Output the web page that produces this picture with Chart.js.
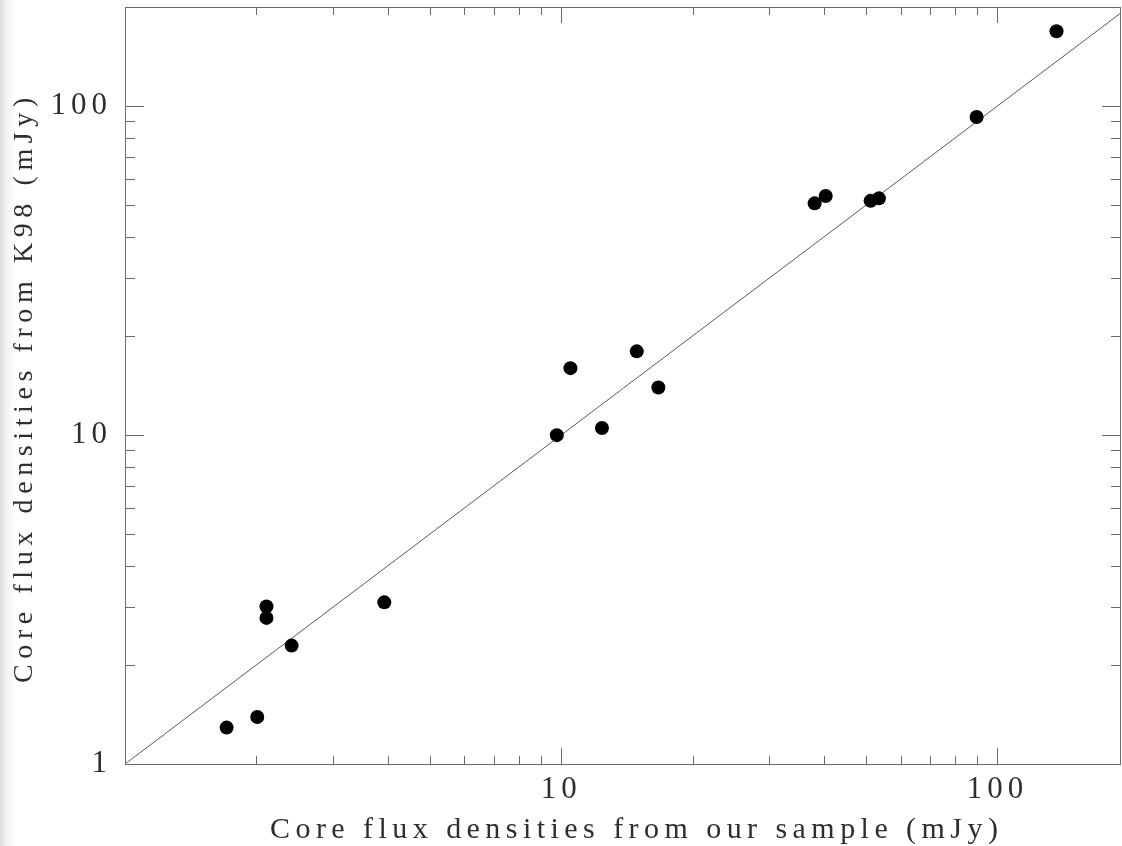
<!DOCTYPE html>
<html>
<head>
<meta charset="utf-8">
<script src="https://cdn.jsdelivr.net/npm/chart.js@4.4.1/dist/chart.umd.min.js"></script>
<style>
  html, body { margin: 0; padding: 0; background: #fff; }
  #wrap { width: 1122px; height: 846px; background: linear-gradient(to right, #dcdcdc 0px, #f3f3f3 7px, #fff 15px); }
</style>
</head>
<body>
<div id="wrap"><canvas id="flux-chart" width="1122" height="846"></canvas></div>
<script>
// core flux densities, mJy: our sample (x) against K98 (y)
const ourFlux = [136.6, 89.6, 38.1, 40.4, 51.2, 53.5, 14.9, 10.5, 16.7, 9.77, 12.4, 3.93, 2.11, 2.11, 2.41, 2.01, 1.71];
const k98Flux = [168.8, 92.6, 50.6, 53.3, 51.5, 52.4, 17.96, 15.97, 13.95, 9.99, 10.5, 3.10, 3.01, 2.78, 2.29, 1.39, 1.29];
// one-to-one line
const lineEnds = [1, 200];
const xTickLabels = ['10', '100'];
const yTickLabels = ['1', '10', '100'];
const xTitle = 'Core flux densities from our sample (mJy)';
const yTitle = 'Core flux densities from K98 (mJy)';

const ctx = document.getElementById('flux-chart');

function mantissa(v) {
  return v / Math.pow(10, Math.floor(Math.log10(v) + 1e-9));
}
function isNice(v) {
  const m = mantissa(v);
  return Math.abs(m - Math.round(m)) < 1e-6;
}
function labeller(list) {
  return function (v) {
    const s = String(Math.round(v));
    return list.includes(s) && Math.abs(mantissa(v) - 1) < 1e-6 ? s : '';
  };
}
// keep the plot box where it is in the original
function fixBox(s) {
  s.paddingTop = 0; s.paddingBottom = 0; s.paddingLeft = 0; s.paddingRight = 0;
  if (s.axis === 'x') s.height = 82; else s.width = 125;
}

const tickFont = { family: 'Liberation Serif', size: 31 };

const frameTicks = {
  id: 'frameTicks',
  beforeDraw(chart) {
    chart.ctx.letterSpacing = '5px';
  },
  afterDraw(chart) {
    const c = chart.ctx;
    const a = chart.chartArea;
    const x = chart.scales.x, y = chart.scales.y;
    c.save();
    c.letterSpacing = '0px';
    c.strokeStyle = '#6a6a6a';
    c.lineWidth = 1;
    c.strokeRect(Math.round(a.left) + 0.5, Math.round(a.top) + 0.5,
      Math.round(a.right - a.left) - 1, Math.round(a.bottom - a.top));
    c.beginPath();
    x.ticks.forEach(function (t) {
      if (!isNice(t.value) || t.value > x.max) return;
      const len = Math.abs(mantissa(t.value) - 1) < 1e-6 ? 16 : 8;
      const px = Math.round(x.getPixelForValue(t.value)) + 0.5;
      c.moveTo(px, a.bottom); c.lineTo(px, a.bottom - len);
      c.moveTo(px, a.top); c.lineTo(px, a.top + len);
    });
    y.ticks.forEach(function (t) {
      if (!isNice(t.value) || t.value > y.max) return;
      const len = Math.abs(mantissa(t.value) - 1) < 1e-6 ? 19 : 10;
      const py = Math.round(y.getPixelForValue(t.value)) + 0.5;
      c.moveTo(a.left, py); c.lineTo(a.left + len, py);
      c.moveTo(a.right, py); c.lineTo(a.right - len, py);
    });
    c.stroke();

    // axis titles
    c.fillStyle = '#2e2e2e';
    c.textBaseline = 'alphabetic';
    c.textAlign = 'left';
    c.font = '30px "Liberation Serif"';
    c.letterSpacing = '5.45px';
    c.fillText(xTitle, a.left + 145, 838);
    c.translate(32, 683);
    c.rotate(-Math.PI / 2);
    c.font = '28px "Liberation Serif"';
    c.letterSpacing = '5.6px';
    c.fillText(yTitle, 0, 0);
    c.restore();
  }
};

new Chart(ctx, {
  type: 'scatter',
  data: {
    datasets: [
      {
        data: ourFlux.map(function (v, i) { return { x: v, y: k98Flux[i] }; }),
        pointRadius: 7,
        pointHoverRadius: 7,
        backgroundColor: '#000',
        borderWidth: 0
      },
      {
        data: lineEnds.map(function (v) { return { x: v, y: v }; }),
        showLine: true,
        pointRadius: 0,
        borderColor: '#5a5a5a',
        borderWidth: 1
      }
    ]
  },
  options: {
    responsive: false,
    animation: false,
    devicePixelRatio: 1,
    layout: { autoPadding: false, padding: { top: 7, right: 1, left: 0, bottom: 0 } },
    plugins: { legend: { display: false }, tooltip: { enabled: false } },
    scales: {
      x: {
        type: 'logarithmic',
        min: 1,
        max: 192,
        grid: { display: false, drawTicks: false },
        border: { display: false },
        ticks: {
          font: tickFont, color: '#2e2e2e', padding: 7,
          autoSkip: false, maxRotation: 0,
          callback: labeller(xTickLabels)
        },
        afterFit: fixBox
      },
      y: {
        type: 'logarithmic',
        min: 1,
        max: 200,
        grid: { display: false, drawTicks: false },
        border: { display: false },
        ticks: {
          font: tickFont, color: '#2e2e2e', padding: 13,
          autoSkip: false,
          callback: labeller(yTickLabels)
        },
        afterFit: fixBox
      }
    }
  },
  plugins: [frameTicks]
});
</script>
</body>
</html>
